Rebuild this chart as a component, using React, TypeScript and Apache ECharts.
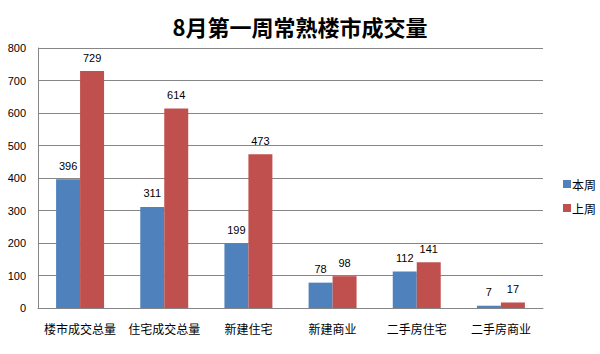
import React, { useEffect, useRef } from "react";
import * as echarts from "echarts";

const categories = ["楼市成交总量", "住宅成交总量", "新建住宅", "新建商业", "二手房住宅", "二手房商业"];
const thisWeek = [396, 311, 199, 78, 112, 7];
const lastWeek = [729, 614, 473, 98, 141, 17];
const seriesNames = ["本周", "上周"];
const titleText = "8月第一周常熟楼市成交量";

export default function App() {
  const ref = useRef<HTMLDivElement>(null);
  useEffect(() => {
    const chart = echarts.init(ref.current!, null, { renderer: "svg" });
    const font = "'Microsoft YaHei', 'Noto Sans CJK SC', sans-serif";
    chart.setOption({
      animation: false,
      backgroundColor: "#fff",
      title: {
        text: titleText,
        left: "center",
        top: 10,
        textStyle: { fontSize: 22, fontWeight: "bold", color: "#000", fontFamily: font },
      },
      legend: {
        orient: "vertical",
        left: 558,
        top: 173,
        itemWidth: 8,
        itemHeight: 8,
        itemGap: 12,
        icon: "rect",
        data: seriesNames,
        textStyle: { fontSize: 12, color: "#000", fontFamily: font, padding: [0, 0, 0, -4] },
      },
      grid: { left: 38, right: 57, top: 48, bottom: 46 },
      xAxis: {
        type: "category",
        data: categories,
        axisLine: { lineStyle: { color: "#868686" } },
        axisTick: { show: false },
        axisLabel: { color: "#000", fontSize: 12, margin: 14, fontFamily: font, interval: 0 },
      },
      yAxis: {
        type: "value",
        min: 0,
        max: 800,
        interval: 100,
        axisLine: { show: true, lineStyle: { color: "#868686" } },
        axisTick: { show: false },
        splitLine: { lineStyle: { color: "#868686" } },
        axisLabel: { color: "#000", fontSize: 11, margin: 12, fontFamily: "Arial, sans-serif" },
      },
      series: [
        {
          name: seriesNames[0],
          type: "bar",
          data: thisWeek,
          barGap: "0%",
          barCategoryGap: "43%",
          itemStyle: { color: "#4F81BD" },
          label: { show: true, position: "top", distance: 8, color: "#000", fontSize: 11, fontFamily: "Verdana, sans-serif" },
        },
        {
          name: seriesNames[1],
          type: "bar",
          data: lastWeek,
          barGap: "0%",
          barCategoryGap: "43%",
          itemStyle: { color: "#C0504D" },
          label: { show: true, position: "top", distance: 8, color: "#000", fontSize: 11, fontFamily: "Verdana, sans-serif" },
        },
      ],
    });
    return () => chart.dispose();
  }, []);
  return <div ref={ref} style={{ width: 600, height: 354, position: "absolute", left: 0, top: 0 }} />;
}
